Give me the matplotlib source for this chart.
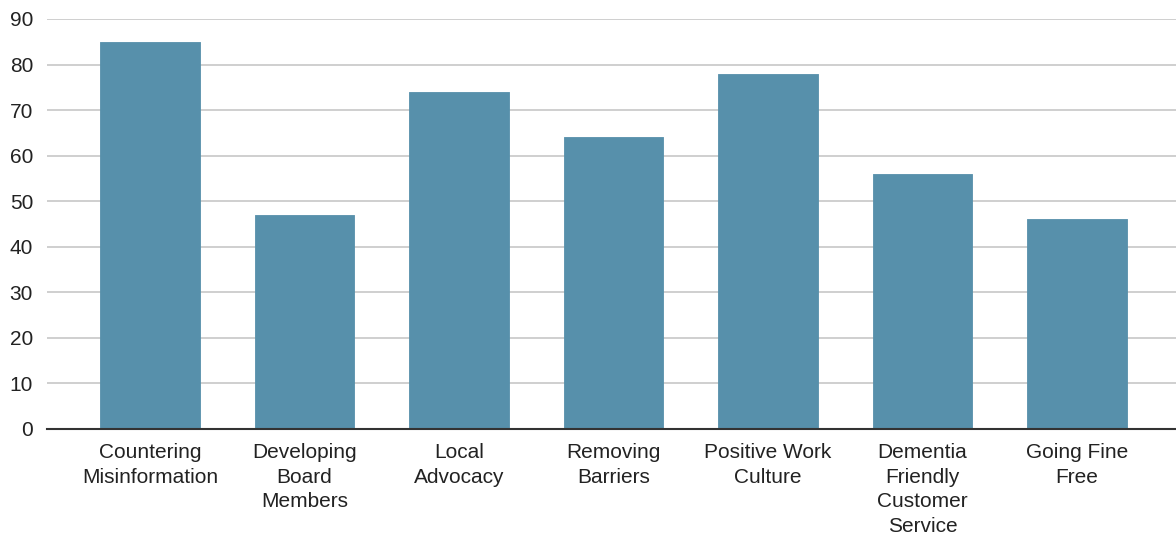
import matplotlib
matplotlib.use("Agg")
import matplotlib.pyplot as plt

categories = ["Countering\nMisinformation", "Developing\nBoard\nMembers", "Local\nAdvocacy",
              "Removing\nBarriers", "Positive Work\nCulture", "Dementia\nFriendly\nCustomer\nService",
              "Going Fine\nFree"]
values = [85, 47, 74, 64, 78, 56, 46]
yticks = [0, 10, 20, 30, 40, 50, 60, 70, 80, 90]

plt.rcParams['font.family'] = ['Liberation Sans', 'DejaVu Sans']

fig = plt.figure(figsize=(11.76, 5.37), dpi=100)
ax = fig.add_axes([47/1176, 1 - 429/537, (1176 - 47)/1176, (429 - 19)/537])

x = list(range(len(categories)))
ax.bar(x, values, width=0.645, color="#5790ab", edgecolor="#5790ab", linewidth=0.6,
       joinstyle="round", zorder=3)

ax.set_xlim(-0.667, 6.64)
ax.set_ylim(0, 90)
ax.set_yticks(yticks)
ax.set_xticks(x)
ax.set_xticklabels(categories, fontsize=15, color="#222222", linespacing=1.38)
ax.tick_params(axis='y', labelsize=15, labelcolor="#222222", length=0, pad=10)
ax.tick_params(axis='x', length=0, pad=10)
ax.grid(axis='y', color="#cccccc", linewidth=1.3, zorder=0)
ax.set_axisbelow(True)
for s in ["top", "right", "left"]:
    ax.spines[s].set_visible(False)
ax.spines["bottom"].set_color("#333333")
ax.spines["bottom"].set_linewidth(1.5)
ax.spines["bottom"].set_zorder(4)

fig.savefig("out.png", dpi=100)
